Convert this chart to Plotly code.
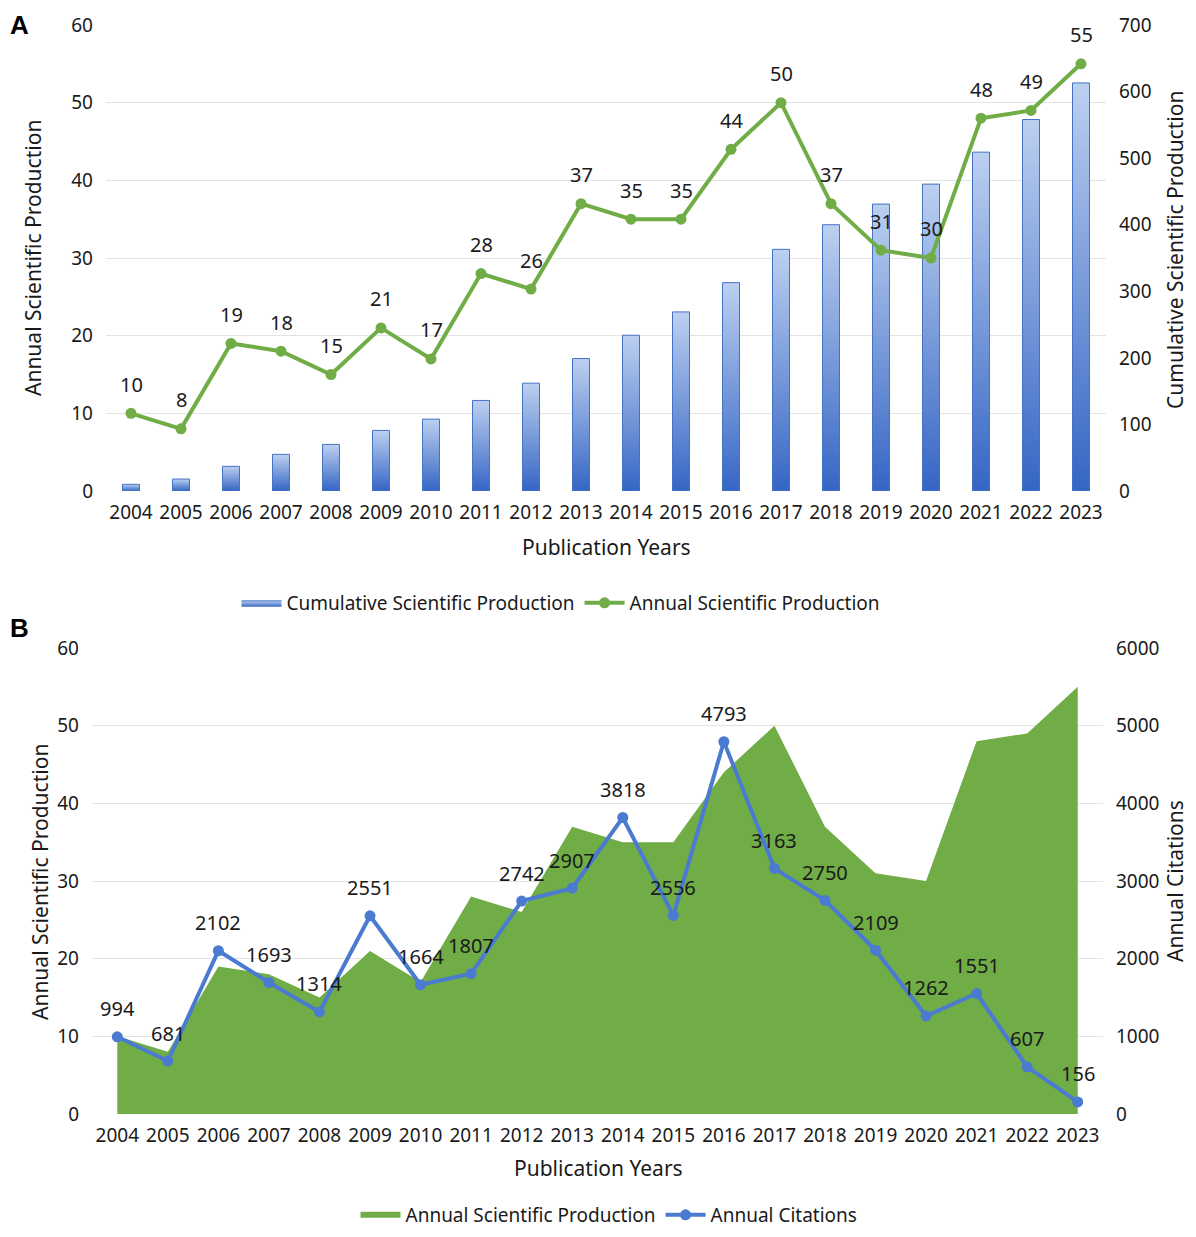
import plotly.graph_objects as go

years = [str(y) for y in range(2004, 2024)]
annual = [10, 8, 19, 18, 15, 21, 17, 28, 26, 37, 35, 35, 44, 50, 37, 31, 30, 48, 49, 55]
cumulative = [10, 18, 37, 55, 70, 91, 108, 136, 162, 199, 234, 269, 313, 363, 400, 431, 461, 509, 558, 613]
citations = [994, 681, 2102, 1693, 1314, 2551, 1664, 1807, 2742, 2907, 3818, 2556, 4793, 3163, 2750, 2109, 1262, 1551, 607, 156]

OFF = 8  # page body margin
W, H = 1196 - 2 * OFF, 1237 - 2 * OFF
FONT = "Noto Sans"
TXT = "#1a1a1a"
GREEN = "#70ad47"
BLUE = "#4472c4"
GRID = "#e3e3e3"

def px(x):
    return (x - OFF) / W

def py(y):
    return 1 - (y - OFF) / H

idx = list(range(len(years)))
fig = go.Figure()

# Panel A: cumulative bars with vertical gradient (right axis, base layer)
bw = 0.34
for i, v in enumerate(cumulative):
    fig.add_trace(go.Scatter(
        x=[i - bw / 2, i - bw / 2, i + bw / 2, i + bw / 2, i - bw / 2],
        y=[0, v, v, 0, 0],
        xaxis="x", yaxis="y",
        mode="lines", fill="toself",
        fillgradient=dict(type="vertical", colorscale=[[0, "#3565c4"], [1, "#bcd0f0"]]),
        line=dict(color=BLUE, width=1),
        name="Cumulative Scientific Production",
        legendgroup="cum", showlegend=(i == 0), legend="legend",
        hoverinfo="skip",
    ))

# annual line on overlay (left axis) so it is drawn above the bars
fig.add_trace(go.Scatter(
    x=idx, y=annual, xaxis="x", yaxis="y2",
    mode="lines+markers",
    line=dict(color=GREEN, width=4),
    marker=dict(color=GREEN, size=11),
    name="Annual Scientific Production", legend="legend",
))

# Panel B
fig.add_trace(go.Scatter(
    x=idx, y=annual, xaxis="x2", yaxis="y3",
    mode="none", fill="tozeroy", fillcolor=GREEN,
    name="Annual Scientific Production", legend="legend2",
))
fig.add_trace(go.Scatter(
    x=idx, y=citations, xaxis="x2", yaxis="y4",
    mode="lines+markers",
    line=dict(color="#4a7bd0", width=4),
    marker=dict(color="#4a7bd0", size=11),
    name="Annual Citations", legend="legend2",
))

annotations = []
for i, v in enumerate(annual):
    annotations.append(dict(x=i, y=v, xref="x", yref="y2", text=str(v), showarrow=False,
                            yshift=29, font=dict(size=20, color=TXT, family=FONT)))
for i, v in enumerate(citations):
    annotations.append(dict(x=i, y=v, xref="x2", yref="y4", text=str(v), showarrow=False,
                            yshift=28, font=dict(size=20, color=TXT, family=FONT)))

def title_ann(text, x, y, angle=0, size=21):
    return dict(text=text, x=px(x), y=py(y), xref="paper", yref="paper", showarrow=False,
                textangle=angle, xanchor="center", yanchor="middle",
                font=dict(size=size, color=TXT, family=FONT))

annotations += [
    title_ann("Annual Scientific Production", 33, 258, -90),
    title_ann("Cumulative Scientific Production", 1175, 250, -90),
    title_ann("Publication Years", 606, 547),
    title_ann("Annual Scientific Production", 40, 882, -90),
    title_ann("Annual Citations", 1175, 881, -90),
    title_ann("Publication Years", 598, 1168),
    dict(text="<b>A</b>", x=0, y=1, xref="paper", yref="paper", showarrow=False,
         xanchor="left", yanchor="top", font=dict(size=26, color="#000", family="Liberation Sans")),
    dict(text="<b>B</b>", x=0, y=py(628), xref="paper", yref="paper", showarrow=False,
         xanchor="left", yanchor="middle", font=dict(size=26, color="#000", family="Liberation Sans")),
]

tickfont = dict(size=19, color=TXT, family=FONT)

xcommon = dict(range=[-0.5, 19.5], tickmode="array", tickvals=idx, ticktext=years,
               showgrid=False, zeroline=False, showline=False, tickfont=tickfont,
               ticklabelstandoff=8, fixedrange=True, automargin=False)

ycommon = dict(zeroline=False, tickfont=tickfont, ticklabelstandoff=12, automargin=False)

fig.update_layout(
    width=W, height=H,
    margin=dict(l=0, r=0, t=0, b=0, autoexpand=False),
    paper_bgcolor="white", plot_bgcolor="white",
    font=dict(family=FONT, color=TXT),
    xaxis=dict(domain=[px(106), px(1106)], anchor="y", **xcommon),
    yaxis=dict(domain=[py(491), py(25)], range=[0, 700], dtick=100, side="right",
               showgrid=False, anchor="x", **ycommon),
    yaxis2=dict(overlaying="y", side="left", range=[0, 60], dtick=10, showgrid=True,
                gridcolor=GRID, gridwidth=1, anchor="x", **ycommon),
    xaxis2=dict(domain=[px(92), px(1103)], anchor="y3", **xcommon),
    yaxis3=dict(domain=[py(1114), py(648)], range=[0, 60], dtick=10, showgrid=True,
                gridcolor=GRID, gridwidth=1, anchor="x2", **ycommon),
    yaxis4=dict(overlaying="y3", side="right", range=[0, 6000], dtick=1000, showgrid=False,
                anchor="x2", **ycommon),
    legend=dict(orientation="h", x=px(561), y=py(603), xanchor="center", yanchor="middle",
                font=dict(size=19, color=TXT, family=FONT), bgcolor="rgba(0,0,0,0)",
                itemwidth=40, tracegroupgap=0),
    legend2=dict(orientation="h", x=px(609), y=py(1215), xanchor="center", yanchor="middle",
                 font=dict(size=19, color=TXT, family=FONT), bgcolor="rgba(0,0,0,0)",
                 itemwidth=40, tracegroupgap=0),
    annotations=annotations,
    showlegend=True,
)

fig.write_html("out.html")
